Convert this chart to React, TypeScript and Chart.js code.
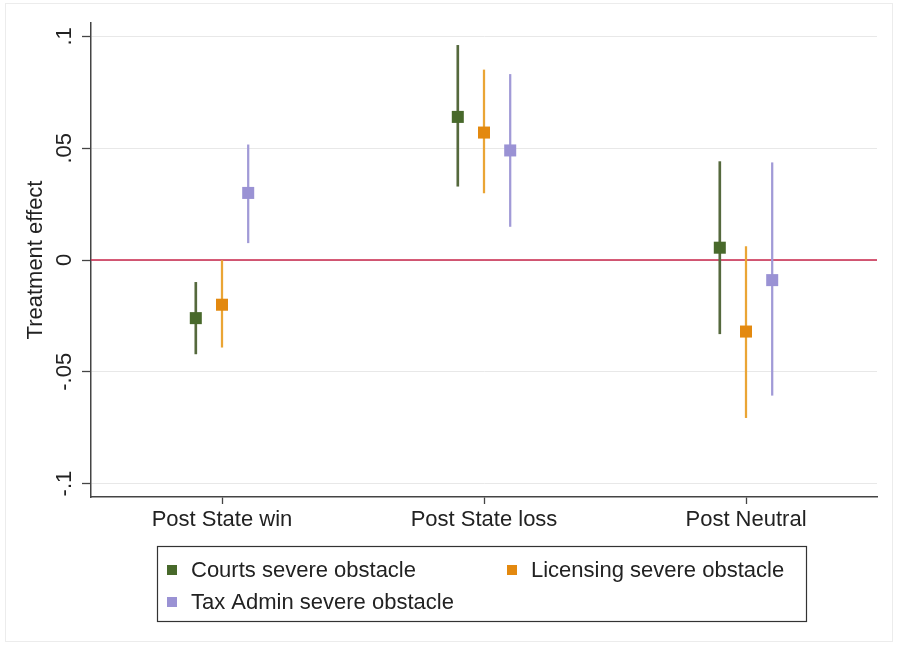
import React, { useEffect, useRef } from 'react';
import { Chart, registerables } from 'chart.js';

Chart.register(...registerables);

// ---------- data ----------
const categories = ['Post State win', 'Post State loss', 'Post Neutral'];
const categoryPositions = [1, 2, 3];

const seriesNames = ['Courts severe obstacle', 'Licensing severe obstacle', 'Tax Admin severe obstacle'];
const seriesOffsets = [-0.1, 0, 0.1];

const courtsEstimate = [-0.026, 0.064, 0.0055];
const courtsLow = [-0.042, 0.033, -0.033];
const courtsHigh = [-0.010, 0.096, 0.044];

const licensingEstimate = [-0.020, 0.057, -0.032];
const licensingLow = [-0.039, 0.030, -0.0705];
const licensingHigh = [0.0, 0.085, 0.006];

const taxEstimate = [0.030, 0.049, -0.009];
const taxLow = [0.0077, 0.015, -0.0605];
const taxHigh = [0.0515, 0.083, 0.0435];

const yTicks = [-0.1, -0.05, 0, 0.05, 0.1];
const yTickLabels = ['-.1', '-.05', '0', '.05', '.1'];
const yAxisTitle = 'Treatment effect';
const referenceValue = 0;

// ---------- styles ----------
const FONT = '"Liberation Sans", Arial, Helvetica, sans-serif';
const TEXT = '#222222';
const AXIS = '#444444';
const markerColors = ['#48692b', '#e3890f', '#9a92d4'];
const lineColors = ['#55693d', '#eaa535', '#a19ad7'];
const lineWidths = [2, 1.6, 1.6];
const REF_COLOR = '#c8254a';

const estimates = [courtsEstimate, licensingEstimate, taxEstimate];
const lows = [courtsLow, licensingLow, taxLow];
const highs = [courtsHigh, licensingHigh, taxHigh];

const framePlugin = {
  id: 'frame',
  beforeDraw(chart: any) {
    const { ctx, width, height } = chart;
    ctx.save();
    ctx.fillStyle = '#ffffff';
    ctx.fillRect(0, 0, width, height);
    ctx.strokeStyle = '#ececec';
    ctx.lineWidth = 1;
    ctx.strokeRect(5.5, 3.5, width - 10, height - 12);
    ctx.restore();
  },
};

const yLabelPlugin = {
  id: 'yLabels',
  afterDraw(chart: any) {
    const scale = chart.scales.y;
    const { ctx } = chart;
    ctx.save();
    ctx.font = `22px ${FONT}`;
    ctx.fillStyle = TEXT;
    ctx.textAlign = 'center';
    ctx.textBaseline = 'alphabetic';
    yTicks.forEach((v, i) => {
      const y = scale.getPixelForValue(v);
      ctx.save();
      ctx.translate(scale.right - 20, y);
      ctx.rotate(-Math.PI / 2);
      ctx.fillText(yTickLabels[i], 0, 0);
      ctx.restore();
    });
    ctx.restore();
  },
};

const legendPlugin = {
  id: 'boxLegend',
  afterDraw(chart: any) {
    const { ctx, chartArea } = chart;
    const bx = chartArea.left + 66;
    const by = chartArea.bottom + 49;
    const bw = 649;
    const bh = 75;
    ctx.save();
    ctx.strokeStyle = '#333333';
    ctx.lineWidth = 1.2;
    ctx.strokeRect(bx + 0.5, by + 0.5, bw, bh);
    const slots = [
      { x: bx + 15, y: by + 24 },
      { x: bx + 355, y: by + 24 },
      { x: bx + 15, y: by + 56 },
    ];
    ctx.font = `22px ${FONT}`;
    ctx.textBaseline = 'middle';
    ctx.textAlign = 'left';
    seriesNames.forEach((name, i) => {
      const s = slots[i];
      ctx.fillStyle = markerColors[i];
      ctx.fillRect(s.x - 5, s.y - 5, 10, 10);
      ctx.fillStyle = TEXT;
      ctx.fillText(name, s.x + 19, s.y + 1);
    });
    ctx.restore();
  },
};

export default function App() {
  const canvasRef = useRef<HTMLCanvasElement | null>(null);

  useEffect(() => {
    if (!canvasRef.current) return;

    const datasets: any[] = [];
    seriesNames.forEach((name, s) => {
      datasets.push({
        type: 'bar',
        label: name + ' CI',
        data: categoryPositions.map((p, i) => ({ x: p + seriesOffsets[s], y: [lows[s][i], highs[s][i]] })),
        backgroundColor: lineColors[s],
        borderWidth: 0,
        barThickness: lineWidths[s],
        grouped: false,
        order: 5,
      });
    });
    seriesNames.forEach((name, s) => {
      datasets.push({
        type: 'scatter',
        label: name,
        data: categoryPositions.map((p, i) => ({ x: p + seriesOffsets[s], y: estimates[s][i] })),
        backgroundColor: markerColors[s],
        borderWidth: 0,
        pointStyle: 'rect',
        pointRadius: 8.5,
        pointHoverRadius: 8.5,
        order: 1,
      });
    });
    datasets.push({
      type: 'line',
      label: 'reference',
      data: [
        { x: 0.5, y: referenceValue },
        { x: 3.5, y: referenceValue },
      ],
      borderColor: REF_COLOR,
      borderWidth: 1.6,
      pointRadius: 0,
      fill: false,
      order: 10,
    });

    const chart = new Chart(canvasRef.current, {
      type: 'scatter',
      data: { datasets },
      plugins: [framePlugin, yLabelPlugin, legendPlugin],
      options: {
        animation: false,
        responsive: false,
        maintainAspectRatio: false,
        layout: { padding: { top: 23, right: 20, bottom: 113, left: 0 } },
        plugins: {
          legend: { display: false },
          tooltip: { enabled: false },
        },
        scales: {
          x: {
            type: 'linear',
            min: 0.5,
            max: 3.5,
            offset: false,
            afterBuildTicks: (scale: any) => {
              scale.ticks = categoryPositions.map((v) => ({ value: v }));
            },
            afterFit: (scale: any) => {
              scale.height = 40;
            },
            ticks: {
              autoSkip: false,
              maxRotation: 0,
              minRotation: 0,
              padding: 3,
              color: TEXT,
              font: { family: FONT, size: 22 },
              callback: (_v: any, i: number) => categories[i],
            },
            grid: {
              drawOnChartArea: false,
              drawTicks: true,
              tickLength: 7,
              tickColor: AXIS,
              tickWidth: 1.3,
              offset: false,
            },
            border: { display: true, color: AXIS, width: 1.5 },
          },
          y: {
            type: 'linear',
            min: -0.106,
            max: 0.106,
            afterBuildTicks: (scale: any) => {
              scale.ticks = yTicks.map((v) => ({ value: v }));
            },
            afterFit: (scale: any) => {
              scale.width = 91;
            },
            ticks: { display: false },
            grid: {
              color: '#e8e8e8',
              lineWidth: 1,
              drawTicks: true,
              tickLength: 9,
              tickColor: AXIS,
              tickWidth: 1.3,
            },
            border: { display: true, color: AXIS, width: 1.5 },
            title: {
              display: true,
              text: yAxisTitle,
              color: TEXT,
              font: { family: FONT, size: 22 },
              padding: { top: 23, bottom: 0 },
            },
          },
        },
      } as any,
    });

    return () => chart.destroy();
  }, []);

  return (
    <div style={{ position: 'absolute', left: 0, top: 0, width: 897, height: 650, background: '#fff' }}>
      <canvas ref={canvasRef} width={897} height={650} />
    </div>
  );
}
